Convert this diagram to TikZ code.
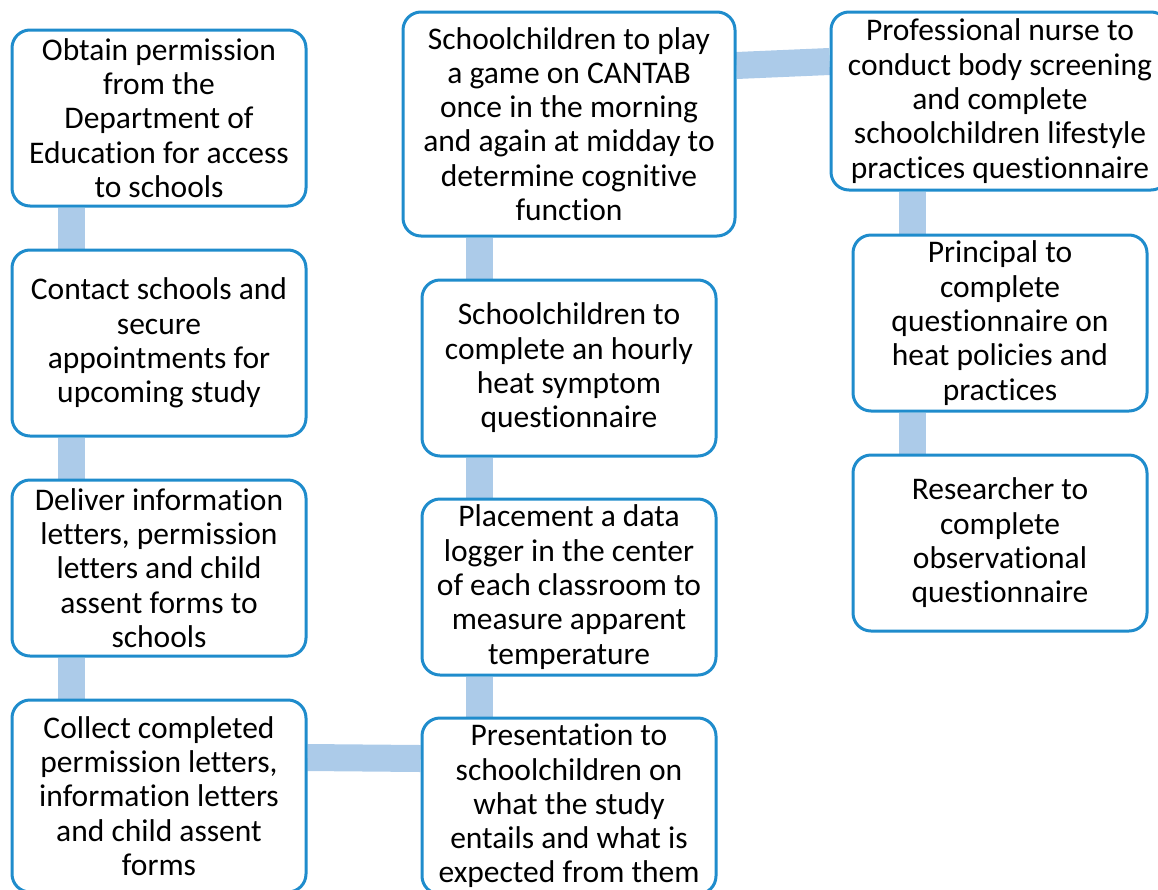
\documentclass[tikz,border=0pt]{standalone}
\usepackage{fontspec}
\setmainfont{Carlito}[Ligatures={NoCommon}]
\usetikzlibrary{calc,backgrounds}
\definecolor{boxblue}{RGB}{31,140,204}
\definecolor{linkblue}{RGB}{172,203,233}
\tikzset{
  stepbox/.style={draw=boxblue, line width=3pt, rounded corners=18pt, fill=white,
    align=center, inner sep=0pt, minimum width=294pt, minimum height=176pt,
    font=\fontsize{31.5}{34.3}\selectfont},
  link/.style={draw=linkblue, line width=27pt}
}

\begin{document}
\begin{tikzpicture}[x=1pt, y=-1pt]
			%%%%% START %%%%%
			\useasboundingbox (0,0) rectangle (1158,889);
			
			% left column
			\node[stepbox] (a1) at (159,118) {Obtain permission\\from the\\Department of\\Education for access\\to schools};
			\node[stepbox, minimum height=186pt] (a2) at (159,343) {Contact schools and\\secure\\appointments for\\upcoming study};
			\node[stepbox] (a3) at (159,568) {Deliver information\\letters, permission\\letters and child\\assent forms to\\schools};
			\node[stepbox, minimum height=192pt] (a4) at (159,796) {Collect completed\\permission letters,\\information letters\\and child assent\\forms};
			
			% middle column
			\node[stepbox, minimum width=332pt, minimum height=224pt] (b1) at (569,124) {Schoolchildren to play\\a game on CANTAB\\once in the morning\\and again at midday to\\determine cognitive\\function};
			\node[stepbox] (b2) at (569,368) {Schoolchildren to\\complete an hourly\\heat symptom\\questionnaire};
			\node[stepbox] (b3) at (569,587) {Placement a data\\logger in the center\\of each classroom to\\measure apparent\\temperature};
			\node[stepbox] (b4) at (569,806) {Presentation to\\schoolchildren on\\what the study\\entails and what is\\expected from them};
			
			% right column
			\node[stepbox, minimum width=338pt, minimum height=178pt] (c1) at (1000,101) {Professional nurse to\\conduct body screening\\and complete\\schoolchildren lifestyle\\practices questionnaire};
			\node[stepbox] (c2) at (1000,323) {Principal to\\complete\\questionnaire on\\heat policies and\\practices};
			\node[stepbox] (c3) at (1000,543) {Researcher to\\complete\\observational\\questionnaire};
			
			\coordinate (bx) at ($(b2.north west)!0.2!(b2.north east)$);
			\coordinate (cx) at ($(c2.north west)!0.206!(c2.north east)$);
			
			\begin{pgfonlayer}{background}
			\draw[link] ($(a1.south west)!0.207!(a1.south east)$) -- ($(a2.north west)!0.207!(a2.north east)$);
			\draw[link] ($(a2.south west)!0.207!(a2.south east)$) -- ($(a3.north west)!0.207!(a3.north east)$);
			\draw[link] ($(a3.south west)!0.207!(a3.south east)$) -- ($(a4.north west)!0.207!(a4.north east)$);
			\draw[link] ([yshift=-59pt]a4.north east) -- ([yshift=-42pt]b4.north west);
			\draw[link] ($(b4.north west)!0.2!(b4.north east)$) -- ($(b3.south west)!0.2!(b3.south east)$);
			\draw[link] ($(b3.north west)!0.2!(b3.north east)$) -- ($(b2.south west)!0.2!(b2.south east)$);
			\draw[link] (bx) -- (bx |- b1.south);
			\draw[link] ([yshift=-55pt]b1.north east) -- ([yshift=-51pt]c1.north west);
			\draw[link] (cx |- c1.south) -- (cx);
			\draw[link] ($(c2.south west)!0.206!(c2.south east)$) -- ($(c3.north west)!0.206!(c3.north east)$);
			\end{pgfonlayer}
			
			%%%%% END %%%%%
\end{tikzpicture}
\end{document}
